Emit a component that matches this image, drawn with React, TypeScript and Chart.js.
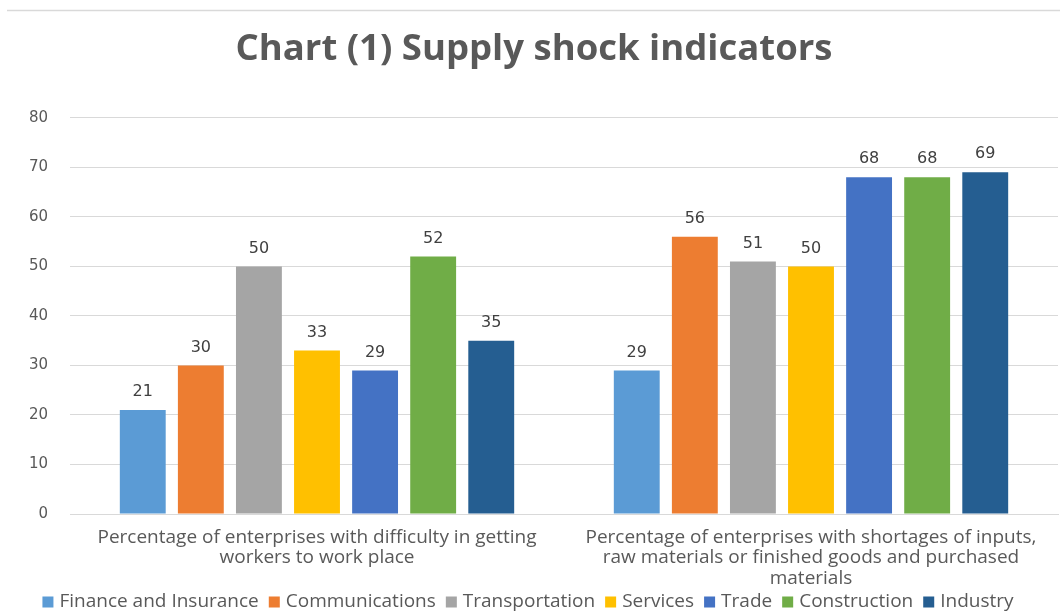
import React, { useEffect, useRef } from "react";
import { Chart, registerables } from "chart.js";

Chart.register(...registerables);

const categories: string[][] = [
  ["Percentage of enterprises with difficulty in getting", "workers to work place"],
  ["Percentage of enterprises with shortages of inputs,", "raw materials or finished goods and purchased", "materials"],
];

const seriesNames = [
  "Finance and Insurance",
  "Communications",
  "Transportation",
  "Services",
  "Trade",
  "Construction",
  "Industry",
];

const financeValues = [21, 29];
const communicationsValues = [30, 56];
const transportationValues = [50, 51];
const servicesValues = [33, 50];
const tradeValues = [29, 68];
const constructionValues = [52, 68];
const industryValues = [35, 69];

const seriesColors = ["#5B9BD5", "#ED7D31", "#A5A5A5", "#FFC000", "#4472C4", "#70AD47", "#255E91"];

const yTicks = [0, 10, 20, 30, 40, 50, 60, 70, 80];

const TEXT_FONT = "'Open Sans', sans-serif";
const NUM_FONT = "'DejaVu Sans', sans-serif";

const valueLabels = {
  id: "valueLabels",
  afterDatasetsDraw(chart: any) {
    const ctx = chart.ctx;
    ctx.save();
    ctx.font = `16px ${NUM_FONT}`;
    ctx.fillStyle = "#404040";
    ctx.textAlign = "center";
    ctx.textBaseline = "middle";
    chart.data.datasets.forEach((ds: any, i: number) => {
      const meta = chart.getDatasetMeta(i);
      meta.data.forEach((bar: any, j: number) => {
        ctx.fillText(String(ds.data[j]), bar.x, bar.y - 18);
      });
    });
    ctx.restore();
  },
};

const bottomLegend = {
  id: "bottomLegend",
  afterDraw(chart: any) {
    const ctx = chart.ctx;
    ctx.save();
    ctx.font = `19px ${TEXT_FONT}`;
    ctx.textBaseline = "middle";
    ctx.textAlign = "left";
    const box = 11;
    const gapText = 6;
    const gapItem = 10;
    const items = chart.data.datasets.map((ds: any) => ({
      label: ds.label as string,
      color: ds.backgroundColor as string,
      w: ctx.measureText(ds.label).width,
    }));
    const total =
      items.reduce((s: number, it: any) => s + box + gapText + it.w, 0) + gapItem * (items.length - 1);
    let x = (chart.width - total) / 2 - 2;
    const y = 602;
    items.forEach((it: any) => {
      ctx.fillStyle = it.color;
      ctx.fillRect(x, y - box / 2, box, box);
      x += box + gapText;
      ctx.fillStyle = "#595959";
      ctx.fillText(it.label, x, y);
      x += it.w + gapItem;
    });
    ctx.restore();
  },
};

const topRule = {
  id: "topRule",
  beforeDraw(chart: any) {
    const ctx = chart.ctx;
    ctx.save();
    ctx.strokeStyle = "#D9D9D9";
    ctx.lineWidth = 1.5;
    ctx.beginPath();
    ctx.moveTo(7, 10.5);
    ctx.lineTo(chart.width, 10.5);
    ctx.stroke();
    ctx.restore();
  },
};

export default function App() {
  const ref = useRef<HTMLCanvasElement | null>(null);

  useEffect(() => {
    document.body.style.margin = "0";
    const all = [
      financeValues,
      communicationsValues,
      transportationValues,
      servicesValues,
      tradeValues,
      constructionValues,
      industryValues,
    ];
    const chart = new Chart(ref.current as HTMLCanvasElement, {
      type: "bar",
      data: {
        labels: categories,
        datasets: all.map((d, i) => ({
          label: seriesNames[i],
          data: d,
          backgroundColor: seriesColors[i],
          categoryPercentage: 0.823,
          barPercentage: 0.79,
        })),
      },
      options: {
        animation: false,
        responsive: false,
        maintainAspectRatio: false,
        layout: { padding: { left: 10, right: 2, top: 0, bottom: 0 } },
        plugins: {
          tooltip: { enabled: false },
          title: {
            display: true,
            text: "Chart (1) Supply shock indicators",
            color: "#595959",
            font: { family: TEXT_FONT, size: 36.5, weight: "bold", lineHeight: 1.2 },
            padding: { top: 28, bottom: 46 },
          },
          legend: { display: false },
        },
        scales: {
          x: {
            grid: { display: false },
            border: { color: "#D9D9D9" },
            afterFit(axis: any) {
              axis.height = 102;
            },
            ticks: {
              color: "#595959",
              font: { family: TEXT_FONT, size: 19, lineHeight: 1.08 },
              padding: 5,
              maxRotation: 0,
              autoSkip: false,
            },
          },
          y: {
            min: 0,
            max: 80,
            afterBuildTicks(axis: any) {
              axis.ticks = yTicks.map((v) => ({ value: v }));
            },
            afterFit(axis: any) {
              axis.width = 60;
            },
            grid: { color: "#D9D9D9", drawTicks: false },
            border: { display: false },
            ticks: {
              color: "#595959",
              font: { family: NUM_FONT, size: 15 },
              padding: 22,
            },
          },
        },
      },
      plugins: [valueLabels, bottomLegend, topRule],
    });
    return () => chart.destroy();
  }, []);

  return (
    <div style={{ width: 1060, height: 616 }}>
      <canvas ref={ref} width={1060} height={616} />
    </div>
  );
}
